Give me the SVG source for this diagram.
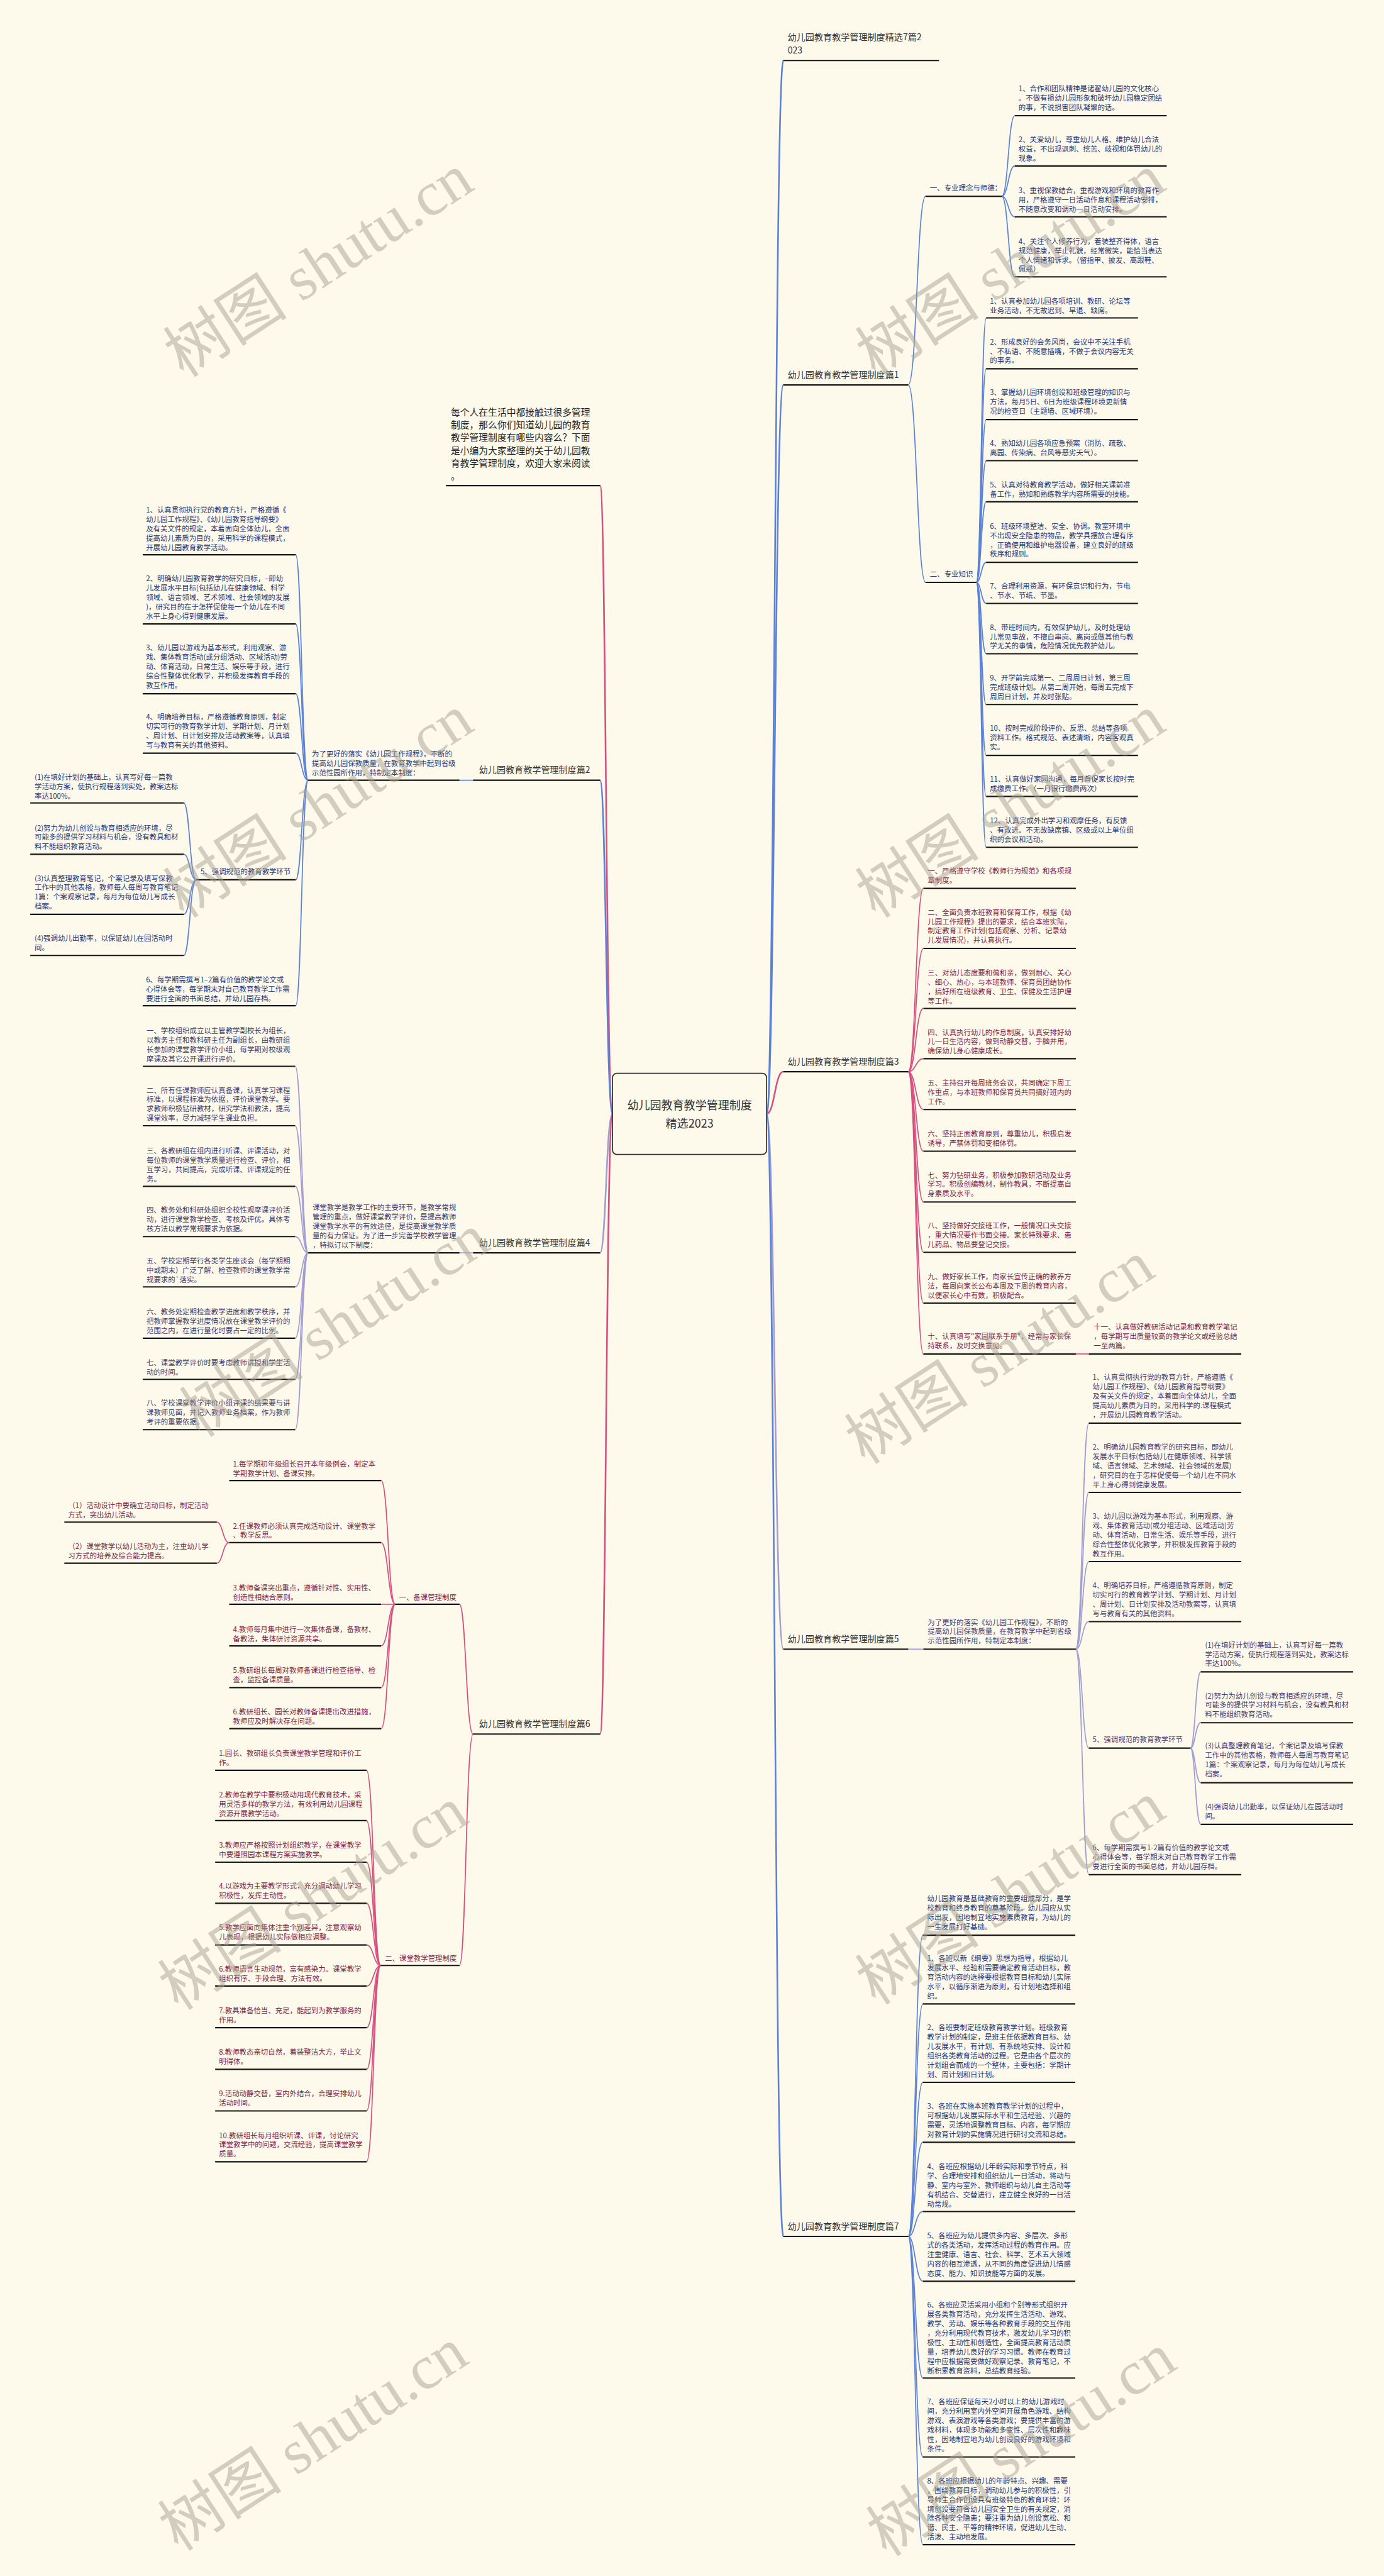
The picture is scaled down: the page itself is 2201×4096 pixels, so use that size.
<svg xmlns="http://www.w3.org/2000/svg" width="2201" height="4096" viewBox="0 0 2201 4096">
<style>
text{font-family:"Noto Sans CJK SC","Noto Sans",sans-serif}
.t{font-size:13.3px}
.lab{font-size:16.4px;fill:#333}
.nv{fill:#24367A}
.mr{fill:#7D1F47}
.pu{fill:#3E3B70}
.pv{fill:#463A74}
.ul{stroke:#161616;stroke-width:2.5;fill:none}
.c{fill:none;stroke-width:2}
.cm{fill:none;stroke-width:3}
.b{stroke:#5B82D6}
.p{stroke:#D6507F}
.l{stroke:#A29CD2}
.wm{font-family:"Liberation Serif","Noto Sans CJK SC",serif;font-size:115px;fill:#A8A292;opacity:.5}
</style>
<rect width="2201" height="4096" fill="#FDF9EB"/>
<g transform="scale(0.85977)">

<g id="connectors">
<!-- main right -->
<path class="cm b" d="M1418 2060 C1433 2060 1433 112 1449 112"/>
<path class="cm b" d="M1418 2060 C1433 2060 1433 712 1449 712"/>
<path class="cm p" d="M1418 2060 C1433 2060 1433 1982 1449 1982"/>
<path class="cm l" d="M1418 2060 C1433 2060 1433 3050 1449 3050"/>
<path class="cm b" d="M1418 2060 C1433 2060 1433 4136 1449 4136"/>
<!-- main left -->
<path class="cm p" d="M1133 2060 C1121 2060 1121 898 1110 898"/>
<path class="cm b" d="M1133 2060 C1121 2060 1121 1443 1110 1443"/>
<path class="cm l" d="M1133 2060 C1121 2060 1121 2317 1110 2317"/>
<path class="cm p" d="M1133 2060 C1121 2060 1121 3207 1110 3207"/>
<!-- p1 -->
<path class="c b" d="M1680 712 C1696 712 1696 363 1712 363"/>
<path class="c b" d="M1680 712 C1696 712 1696 1077 1712 1077"/>
<path class="c b" d="M1853 363 C1865 363 1865 214 1877 214"/>
<path class="c b" d="M1853 363 C1865 363 1865 307 1877 307"/>
<path class="c b" d="M1853 363 C1865 363 1865 401 1877 401"/>
<path class="c b" d="M1853 363 C1865 363 1865 512 1877 512"/>
<path class="c b" d="M1806 1077 C1815 1077 1815 588 1824 588"/>
<path class="c b" d="M1806 1077 C1815 1077 1815 682 1824 682"/>
<path class="c b" d="M1806 1077 C1815 1077 1815 776 1824 776"/>
<path class="c b" d="M1806 1077 C1815 1077 1815 852 1824 852"/>
<path class="c b" d="M1806 1077 C1815 1077 1815 928 1824 928"/>
<path class="c b" d="M1806 1077 C1815 1077 1815 1040 1824 1040"/>
<path class="c b" d="M1806 1077 C1815 1077 1815 1116 1824 1116"/>
<path class="c b" d="M1806 1077 C1815 1077 1815 1209 1824 1209"/>
<path class="c b" d="M1806 1077 C1815 1077 1815 1303 1824 1303"/>
<path class="c b" d="M1806 1077 C1815 1077 1815 1397 1824 1397"/>
<path class="c b" d="M1806 1077 C1815 1077 1815 1473 1824 1473"/>
<path class="c b" d="M1806 1077 C1815 1077 1815 1567 1824 1567"/>
<!-- p3 -->
<path class="c p" d="M1680 1982 C1694 1982 1694 1643 1708 1643"/>
<path class="c p" d="M1680 1982 C1694 1982 1694 1754 1708 1754"/>
<path class="c p" d="M1680 1982 C1694 1982 1694 1865 1708 1865"/>
<path class="c p" d="M1680 1982 C1694 1982 1694 1958 1708 1958"/>
<path class="c p" d="M1680 1982 C1694 1982 1694 2052 1708 2052"/>
<path class="c p" d="M1680 1982 C1694 1982 1694 2129 1708 2129"/>
<path class="c p" d="M1680 1982 C1694 1982 1694 2223 1708 2223"/>
<path class="c p" d="M1680 1982 C1694 1982 1694 2316 1708 2316"/>
<path class="c p" d="M1680 1982 C1694 1982 1694 2410 1708 2410"/>
<path class="c p" d="M1680 1982 C1694 1982 1694 2504 1708 2504"/>
<path class="c p" d="M1990 2504 L2014 2504"/>
<!-- p5 -->
<path class="c l" d="M1680 3050 L1708 3050"/>
<path class="c l" d="M1990 3050 C2002 3050 2002 2632 2014 2632"/>
<path class="c l" d="M1990 3050 C2002 3050 2002 2760 2014 2760"/>
<path class="c l" d="M1990 3050 C2002 3050 2002 2888 2014 2888"/>
<path class="c l" d="M1990 3050 C2002 3050 2002 2999 2014 2999"/>
<path class="c l" d="M1990 3050 C2002 3050 2002 3233 2014 3233"/>
<path class="c l" d="M1990 3050 C2002 3050 2002 3467 2014 3467"/>
<path class="c l" d="M2202 3233 C2211 3233 2211 3092 2221 3092"/>
<path class="c l" d="M2202 3233 C2211 3233 2211 3186 2221 3186"/>
<path class="c l" d="M2202 3233 C2211 3233 2211 3297 2221 3297"/>
<path class="c l" d="M2202 3233 C2211 3233 2211 3374 2221 3374"/>
<!-- p7 -->
<path class="c b" d="M1680 4136 C1693 4136 1693 3579 1707 3579"/>
<path class="c b" d="M1680 4136 C1693 4136 1693 3706 1707 3706"/>
<path class="c b" d="M1680 4136 C1693 4136 1693 3851 1707 3851"/>
<path class="c b" d="M1680 4136 C1693 4136 1693 3962 1707 3962"/>
<path class="c b" d="M1680 4136 C1693 4136 1693 4090 1707 4090"/>
<path class="c b" d="M1680 4136 C1693 4136 1693 4219 1707 4219"/>
<path class="c b" d="M1680 4136 C1693 4136 1693 4398 1707 4398"/>
<path class="c b" d="M1680 4136 C1693 4136 1693 4544 1707 4544"/>
<path class="c b" d="M1680 4136 C1693 4136 1693 4706 1707 4706"/>
<!-- p2 -->
<path class="c b" d="M875 1443 L850 1443"/>
<path class="c b" d="M570 1443 C558 1443 558 1026 547 1026"/>
<path class="c b" d="M570 1443 C558 1443 558 1154 547 1154"/>
<path class="c b" d="M570 1443 C558 1443 558 1283 547 1283"/>
<path class="c b" d="M570 1443 C558 1443 558 1393 547 1393"/>
<path class="c b" d="M570 1443 C558 1443 558 1627 547 1627"/>
<path class="c b" d="M570 1443 C558 1443 558 1860 547 1860"/>
<path class="c b" d="M363 1627 C351 1627 351 1485 340 1485"/>
<path class="c b" d="M363 1627 C351 1627 351 1580 340 1580"/>
<path class="c b" d="M363 1627 C351 1627 351 1691 340 1691"/>
<path class="c b" d="M363 1627 C351 1627 351 1767 340 1767"/>
<!-- p4 -->
<path class="c l" d="M875 2317 L850 2317"/>
<path class="c l" d="M570 2317 C558 2317 558 1972 546 1972"/>
<path class="c l" d="M570 2317 C558 2317 558 2082 546 2082"/>
<path class="c l" d="M570 2317 C558 2317 558 2194 546 2194"/>
<path class="c l" d="M570 2317 C558 2317 558 2287 546 2287"/>
<path class="c l" d="M570 2317 C558 2317 558 2380 546 2380"/>
<path class="c l" d="M570 2317 C558 2317 558 2475 546 2475"/>
<path class="c l" d="M570 2317 C558 2317 558 2551 546 2551"/>
<path class="c l" d="M570 2317 C558 2317 558 2644 546 2644"/>
<!-- p6 -->
<path class="c p" d="M875 3207 C862 3207 862 2967 850 2967"/>
<path class="c p" d="M875 3207 C862 3207 862 3635 850 3635"/>
<path class="c p" d="M731 2967 C718 2967 718 2738 705 2738"/>
<path class="c p" d="M731 2967 C718 2967 718 2853 705 2853"/>
<path class="c p" d="M731 2967 L705 2967"/>
<path class="c p" d="M731 2967 C718 2967 718 3044 705 3044"/>
<path class="c p" d="M731 2967 C718 2967 718 3121 705 3121"/>
<path class="c p" d="M731 2967 C718 2967 718 3197 705 3197"/>
<path class="c p" d="M424 2853 C412 2853 412 2815 401 2815"/>
<path class="c p" d="M424 2853 C412 2853 412 2891 401 2891"/>
<path class="c p" d="M704 3635 C691 3635 691 3274 678 3274"/>
<path class="c p" d="M704 3635 C691 3635 691 3367 678 3367"/>
<path class="c p" d="M704 3635 C691 3635 691 3444 678 3444"/>
<path class="c p" d="M704 3635 C691 3635 691 3520 678 3520"/>
<path class="c p" d="M704 3635 C691 3635 691 3597 678 3597"/>
<path class="c p" d="M704 3635 C691 3635 691 3673 678 3673"/>
<path class="c p" d="M704 3635 C691 3635 691 3750 678 3750"/>
<path class="c p" d="M704 3635 C691 3635 691 3827 678 3827"/>
<path class="c p" d="M704 3635 C691 3635 691 3904 678 3904"/>
<path class="c p" d="M704 3635 C691 3635 691 3998 678 3998"/>
</g>

<g id="n-center">
<rect x="1133" y="1985" width="285" height="150" rx="8" fill="#FDF9EB" stroke="#333" stroke-width="2"/>
<text x="1275.5" y="2052" font-size="21" fill="#333" text-anchor="middle">幼儿园教育教学管理制度<tspan x="1275.5" dy="33">精选2023</tspan></text>
</g>

<!-- right side branch labels -->
<g id="n-title"><text class="lab" x="1457" y="75">幼儿园教育教学管理制度精选7篇2<tspan x="1457" dy="24">023</tspan></text><path class="ul" d="M1449 112H1737"/></g>
<g id="n-p1"><text class="lab" x="1457" y="699">幼儿园教育教学管理制度篇1</text><path class="ul" d="M1449 712H1680"/></g>
<g id="n-p3"><text class="lab" x="1457" y="1969">幼儿园教育教学管理制度篇3</text><path class="ul" d="M1449 1982H1680"/></g>
<g id="n-p5"><text class="lab" x="1457" y="3037">幼儿园教育教学管理制度篇5</text><path class="ul" d="M1449 3050H1680"/></g>
<g id="n-p7"><text class="lab" x="1457" y="4123">幼儿园教育教学管理制度篇7</text><path class="ul" d="M1449 4136H1680"/></g>

<!-- p1 -->
<g id="n-p1a"><text class="t nv" x="1720" y="353">一、专业理念与师德：</text><path class="ul" d="M1712 363H1853"/></g>
<g id="n-p1a1"><text class="t nv" x="1884" y="169"><tspan x="1884">1、合作和团队精神是诸翟幼儿园的文化核心</tspan><tspan x="1884" dy="17.3">。不做有损幼儿园形象和破坏幼儿园稳定团结</tspan><tspan x="1884" dy="17.3">的事，不说损害团队凝聚的话。</tspan></text><path class="ul" d="M1877 214H2158"/></g>
<g id="n-p1a2"><text class="t nv" x="1884" y="263"><tspan x="1884">2、关爱幼儿，尊重幼儿人格、维护幼儿合法</tspan><tspan x="1884" dy="17.3">权益，不出现讽刺、挖苦、歧视和体罚幼儿的</tspan><tspan x="1884" dy="17.3">现象。</tspan></text><path class="ul" d="M1877 307H2158"/></g>
<g id="n-p1a3"><text class="t nv" x="1884" y="357"><tspan x="1884">3、重视保教结合，重视游戏和环境的教育作</tspan><tspan x="1884" dy="17.3">用，严格遵守一日活动作息和课程活动安排，</tspan><tspan x="1884" dy="17.3">不随意改变和调动一日活动安排。</tspan></text><path class="ul" d="M1877 401H2158"/></g>
<g id="n-p1a4"><text class="t nv" x="1884" y="451"><tspan x="1884">4、关注个人修养行为，着装整齐得体，语言</tspan><tspan x="1884" dy="17.3">规范健康，举止礼貌，经常微笑，能恰当表达</tspan><tspan x="1884" dy="17.3">个人情绪和诉求。（留指甲、披发、高跟鞋、</tspan><tspan x="1884" dy="17.3">佩戒）</tspan></text><path class="ul" d="M1877 512H2158"/></g>

<g id="n-p1b"><text class="t nv" x="1720" y="1067">二、专业知识</text><path class="ul" d="M1712 1077H1806"/></g>
<g id="n-p1b1"><text class="t nv" x="1831" y="562"><tspan x="1831">1、认真参加幼儿园各项培训、教研、论坛等</tspan><tspan x="1831" dy="17.3">业务活动，不无故迟到、早退、缺席。</tspan></text><path class="ul" d="M1824 588H2105"/></g>
<g id="n-p1b2"><text class="t nv" x="1831" y="637"><tspan x="1831">2、形成良好的会务风尚，会议中不关注手机</tspan><tspan x="1831" dy="17.3">、不私语、不随意插嘴，不做于会议内容无关</tspan><tspan x="1831" dy="17.3">的事务。</tspan></text><path class="ul" d="M1824 682H2105"/></g>
<g id="n-p1b3"><text class="t nv" x="1831" y="731"><tspan x="1831">3、掌握幼儿园环境创设和班级管理的知识与</tspan><tspan x="1831" dy="17.3">方法，每月5日、6日为班级课程环境更新情</tspan><tspan x="1831" dy="17.3">况的检查日（主题墙、区域环境）。</tspan></text><path class="ul" d="M1824 776H2105"/></g>
<g id="n-p1b4"><text class="t nv" x="1831" y="825"><tspan x="1831">4、熟知幼儿园各项应急预案（消防、疏散、</tspan><tspan x="1831" dy="17.3">离园、传染病、台风等恶劣天气）。</tspan></text><path class="ul" d="M1824 852H2105"/></g>
<g id="n-p1b5"><text class="t nv" x="1831" y="901"><tspan x="1831">5、认真对待教育教学活动，做好相关课前准</tspan><tspan x="1831" dy="17.3">备工作，熟知和熟练教学内容所需要的技能。</tspan></text><path class="ul" d="M1824 928H2105"/></g>
<g id="n-p1b6"><text class="t nv" x="1831" y="978"><tspan x="1831">6、班级环境整洁、安全、协调。教室环境中</tspan><tspan x="1831" dy="17.3">不出现安全隐患的物品，教学具摆放合理有序</tspan><tspan x="1831" dy="17.3">，正确使用和维护电器设备，建立良好的班级</tspan><tspan x="1831" dy="17.3">秩序和规则。</tspan></text><path class="ul" d="M1824 1040H2105"/></g>
<g id="n-p1b7"><text class="t nv" x="1831" y="1089"><tspan x="1831">7、合理利用资源，有环保意识和行为，节电</tspan><tspan x="1831" dy="17.3">、节水、节纸、节墨。</tspan></text><path class="ul" d="M1824 1116H2105"/></g>
<g id="n-p1b8"><text class="t nv" x="1831" y="1165"><tspan x="1831">8、带班时间内，有效保护幼儿，及时处理幼</tspan><tspan x="1831" dy="17.3">儿常见事故，不擅自串岗、离岗或做其他与教</tspan><tspan x="1831" dy="17.3">学无关的事情，危险情况优先救护幼儿。</tspan></text><path class="ul" d="M1824 1209H2105"/></g>
<g id="n-p1b9"><text class="t nv" x="1831" y="1259"><tspan x="1831">9、开学前完成第一、二周周日计划，第三周</tspan><tspan x="1831" dy="17.3">完成班级计划。从第二周开始，每周五完成下</tspan><tspan x="1831" dy="17.3">周周日计划，并及时张贴。</tspan></text><path class="ul" d="M1824 1303H2105"/></g>
<g id="n-p1b10"><text class="t nv" x="1831" y="1352"><tspan x="1831">10、按时完成阶段评价、反思、总结等各项</tspan><tspan x="1831" dy="17.3">资料工作。格式规范、表述清晰，内容客观真</tspan><tspan x="1831" dy="17.3">实。</tspan></text><path class="ul" d="M1824 1397H2105"/></g>
<g id="n-p1b11"><text class="t nv" x="1831" y="1446"><tspan x="1831">11、认真做好家园沟通，每月督促家长按时完</tspan><tspan x="1831" dy="17.3">成缴费工作。（一月银行缴费两次）</tspan></text><path class="ul" d="M1824 1473H2105"/></g>
<g id="n-p1b12"><text class="t nv" x="1831" y="1523"><tspan x="1831">12、认真完成外出学习和观摩任务，有反馈</tspan><tspan x="1831" dy="17.3">、有改进。不无故缺席镇、区级或以上单位组</tspan><tspan x="1831" dy="17.3">织的会议和活动。</tspan></text><path class="ul" d="M1824 1567H2105"/></g>

<!-- p3 -->
<g id="n-p3-1"><text class="t mr" x="1716" y="1616"><tspan x="1716">一、严格遵守学校《教师行为规范》和各项规</tspan><tspan x="1716" dy="17.3">章制度。</tspan></text><path class="ul" d="M1708 1643H1990"/></g>
<g id="n-p3-2"><text class="t mr" x="1716" y="1692"><tspan x="1716">二、全面负责本班教育和保育工作，根据《幼</tspan><tspan x="1716" dy="17.3">儿园工作规程》提出的要求，结合本班实际，</tspan><tspan x="1716" dy="17.3">制定教育工作计划(包括观察、分析、记录幼</tspan><tspan x="1716" dy="17.3">儿发展情况)，并认真执行。</tspan></text><path class="ul" d="M1708 1754H1990"/></g>
<g id="n-p3-3"><text class="t mr" x="1716" y="1804"><tspan x="1716">三、对幼儿态度要和蔼和亲，做到耐心、关心</tspan><tspan x="1716" dy="17.3">、细心、热心，与本班教师、保育员团结协作</tspan><tspan x="1716" dy="17.3">，搞好所在班级教育、卫生、保健及生活护理</tspan><tspan x="1716" dy="17.3">等工作。</tspan></text><path class="ul" d="M1708 1865H1990"/></g>
<g id="n-p3-4"><text class="t mr" x="1716" y="1914"><tspan x="1716">四、认真执行幼儿的作息制度，认真安排好幼</tspan><tspan x="1716" dy="17.3">儿一日生活内容，做到动静交替，手脑并用，</tspan><tspan x="1716" dy="17.3">确保幼儿身心健康成长。</tspan></text><path class="ul" d="M1708 1958H1990"/></g>
<g id="n-p3-5"><text class="t mr" x="1716" y="2008"><tspan x="1716">五、主持召开每周班务会议，共同确定下周工</tspan><tspan x="1716" dy="17.3">作重点，与本班教师和保育员共同搞好班内的</tspan><tspan x="1716" dy="17.3">工作。</tspan></text><path class="ul" d="M1708 2052H1990"/></g>
<g id="n-p3-6"><text class="t mr" x="1716" y="2102"><tspan x="1716">六、坚持正面教育原则，尊重幼儿，积极启发</tspan><tspan x="1716" dy="17.3">诱导，严禁体罚和变相体罚。</tspan></text><path class="ul" d="M1708 2129H1990"/></g>
<g id="n-p3-7"><text class="t mr" x="1716" y="2178"><tspan x="1716">七、努力钻研业务，积极参加教研活动及业务</tspan><tspan x="1716" dy="17.3">学习。积极创编教材，制作教具，不断提高自</tspan><tspan x="1716" dy="17.3">身素质及水平。</tspan></text><path class="ul" d="M1708 2223H1990"/></g>
<g id="n-p3-8"><text class="t mr" x="1716" y="2272"><tspan x="1716">八、坚持做好交接班工作，一般情况口头交接</tspan><tspan x="1716" dy="17.3">，重大情况要作书面交接。家长特殊要求、患</tspan><tspan x="1716" dy="17.3">儿药品、物品要登记交接。</tspan></text><path class="ul" d="M1708 2316H1990"/></g>
<g id="n-p3-9"><text class="t mr" x="1716" y="2366"><tspan x="1716">九、做好家长工作，向家长宣传正确的教养方</tspan><tspan x="1716" dy="17.3">法，每周向家长公布本周及下周的教育内容，</tspan><tspan x="1716" dy="17.3">以便家长心中有数，积极配合。</tspan></text><path class="ul" d="M1708 2410H1990"/></g>
<g id="n-p3-10"><text class="t mr" x="1716" y="2476"><tspan x="1716">十、认真填写"家园联系手册"，经常与家长保</tspan><tspan x="1716" dy="17.3">持联系，及时交换意见。</tspan></text><path class="ul" d="M1708 2504H1990"/></g>
<g id="n-p3-11"><text class="t mr" x="2023" y="2459"><tspan x="2023">十一、认真做好教研活动记录和教育教学笔记</tspan><tspan x="2023" dy="17.3">，每学期写出质量较高的教学论文或经验总结</tspan><tspan x="2023" dy="17.3">一至两篇。</tspan></text><path class="ul" d="M2014 2504H2296"/></g>

<!-- p5 -->
<g id="n-p5-intro"><text class="t pv" x="1716" y="3005"><tspan x="1716">为了更好的落实《幼儿园工作规程》，不断的</tspan><tspan x="1716" dy="17.3">提高幼儿园保教质量，在教育教学中起到省级</tspan><tspan x="1716" dy="17.3">示范性园所作用，特制定本制度：</tspan></text><path class="ul" d="M1708 3050H1990"/></g>
<g id="n-p5-1"><text class="t pv" x="2021" y="2552"><tspan x="2021">1、认真贯彻执行党的教育方针，严格遵循《</tspan><tspan x="2021" dy="17.3">幼儿园工作规程》、《幼儿园教育指导纲要》</tspan><tspan x="2021" dy="17.3">及有关文件的规定，本着面向全体幼儿，全面</tspan><tspan x="2021" dy="17.3">提高幼儿素质为目的，采用科学的.课程模式</tspan><tspan x="2021" dy="17.3">，开展幼儿园教育教学活动。</tspan></text><path class="ul" d="M2014 2632H2296"/></g>
<g id="n-p5-2"><text class="t pv" x="2021" y="2681"><tspan x="2021">2、明确幼儿园教育教学的研究目标，即幼儿</tspan><tspan x="2021" dy="17.3">发展水平目标(包括幼儿在健康领域、科学领</tspan><tspan x="2021" dy="17.3">域、语言领域、艺术领域、社会领域的发展)</tspan><tspan x="2021" dy="17.3">，研究目的在于怎样促使每一个幼儿在不同水</tspan><tspan x="2021" dy="17.3">平上身心得到健康发展。</tspan></text><path class="ul" d="M2014 2760H2296"/></g>
<g id="n-p5-3"><text class="t pv" x="2021" y="2809"><tspan x="2021">3、幼儿园以游戏为基本形式，利用观察、游</tspan><tspan x="2021" dy="17.3">戏、集体教育活动(或分组活动、区域活动)劳</tspan><tspan x="2021" dy="17.3">动、体育活动，日常生活、娱乐等手段，进行</tspan><tspan x="2021" dy="17.3">综合性整体优化教学，并积极发挥教育手段的</tspan><tspan x="2021" dy="17.3">教互作用。</tspan></text><path class="ul" d="M2014 2888H2296"/></g>
<g id="n-p5-4"><text class="t pv" x="2021" y="2937"><tspan x="2021">4、明确培养目标，严格遵循教育原则，制定</tspan><tspan x="2021" dy="17.3">切实可行的教育教学计划、学期计划、月计划</tspan><tspan x="2021" dy="17.3">、周计划、日计划安排及活动教案等，认真填</tspan><tspan x="2021" dy="17.3">写与教育有关的其他资料。</tspan></text><path class="ul" d="M2014 2999H2296"/></g>
<g id="n-p5-5"><text class="t pv" x="2021" y="3222">5、强调规范的教育教学环节</text><path class="ul" d="M2014 3233H2202"/></g>
<g id="n-p5-5a"><text class="t pv" x="2229" y="3047"><tspan x="2229">(1)在填好计划的基础上，认真写好每一篇教</tspan><tspan x="2229" dy="17.3">学活动方案，使执行规程落到实处，教案达标</tspan><tspan x="2229" dy="17.3">率达100%。</tspan></text><path class="ul" d="M2221 3092H2503"/></g>
<g id="n-p5-5b"><text class="t pv" x="2229" y="3141"><tspan x="2229">(2)努力为幼儿创设与教育相适应的环境，尽</tspan><tspan x="2229" dy="17.3">可能多的提供学习材料与机会，没有教具和材</tspan><tspan x="2229" dy="17.3">料不能组织教育活动。</tspan></text><path class="ul" d="M2221 3186H2503"/></g>
<g id="n-p5-5c"><text class="t pv" x="2229" y="3234"><tspan x="2229">(3)认真整理教育笔记，个案记录及填写保教</tspan><tspan x="2229" dy="17.3">工作中的其他表格，教师每人每周写教育笔记</tspan><tspan x="2229" dy="17.3">1篇：个案观察记录，每月为每位幼儿写成长</tspan><tspan x="2229" dy="17.3">档案。</tspan></text><path class="ul" d="M2221 3297H2503"/></g>
<g id="n-p5-5d"><text class="t pv" x="2229" y="3346"><tspan x="2229">(4)强调幼儿出勤率，以保证幼儿在园活动时</tspan><tspan x="2229" dy="17.3">间。</tspan></text><path class="ul" d="M2221 3374H2503"/></g>
<g id="n-p5-6"><text class="t pv" x="2021" y="3422"><tspan x="2021">6、每学期需撰写1-2篇有价值的教学论文或</tspan><tspan x="2021" dy="17.3">心得体会等，每学期末对自己教育教学工作需</tspan><tspan x="2021" dy="17.3">要进行全面的书面总结，并幼儿园存档。</tspan></text><path class="ul" d="M2014 3467H2296"/></g>

<!-- p7 -->
<g id="n-p7-intro"><text class="t nv" x="1715" y="3516"><tspan x="1715">幼儿园教育是基础教育的重要组成部分，是学</tspan><tspan x="1715" dy="17.3">校教育和终身教育的奠基阶段。幼儿园应从实</tspan><tspan x="1715" dy="17.3">际出发，因地制宜地实施素质教育，为幼儿的</tspan><tspan x="1715" dy="17.3">一生发展打好基础。</tspan></text><path class="ul" d="M1707 3579H1989"/></g>
<g id="n-p7-1"><text class="t nv" x="1715" y="3627"><tspan x="1715">1、各班以新《纲要》思想为指导，根据幼儿</tspan><tspan x="1715" dy="17.3">发展水平、经验和需要确定教育活动目标，教</tspan><tspan x="1715" dy="17.3">育活动内容的选择要根据教育目标和幼儿实际</tspan><tspan x="1715" dy="17.3">水平，以循序渐进为原则，有计划地选择和组</tspan><tspan x="1715" dy="17.3">织。</tspan></text><path class="ul" d="M1707 3706H1989"/></g>
<g id="n-p7-2"><text class="t nv" x="1715" y="3755"><tspan x="1715">2、各班要制定班级教育教学计划。班级教育</tspan><tspan x="1715" dy="17.3">教学计划的制定，是班主任依据教育目标、幼</tspan><tspan x="1715" dy="17.3">儿发展水平，有计划、有系统地安排、设计和</tspan><tspan x="1715" dy="17.3">组织各类教育活动的过程。它是由各个层次的</tspan><tspan x="1715" dy="17.3">计划组合而成的一个整体，主要包括：学期计</tspan><tspan x="1715" dy="17.3">划、周计划和日计划。</tspan></text><path class="ul" d="M1707 3851H1989"/></g>
<g id="n-p7-3"><text class="t nv" x="1715" y="3900"><tspan x="1715">3、各班在实施本班教育教学计划的过程中，</tspan><tspan x="1715" dy="17.3">可根据幼儿发展实际水平和生活经验、兴趣的</tspan><tspan x="1715" dy="17.3">需要，灵活地调整教育目标、内容，每学期应</tspan><tspan x="1715" dy="17.3">对教育计划的实施情况进行研讨交流和总结。</tspan></text><path class="ul" d="M1707 3962H1989"/></g>
<g id="n-p7-4"><text class="t nv" x="1715" y="4012"><tspan x="1715">4、各班应根据幼儿年龄实际和季节特点，科</tspan><tspan x="1715" dy="17.3">学、合理地安排和组织幼儿一日活动，将动与</tspan><tspan x="1715" dy="17.3">静、室内与室外、教师组织与幼儿自主活动等</tspan><tspan x="1715" dy="17.3">有机结合、交替进行，建立健全良好的一日活</tspan><tspan x="1715" dy="17.3">动常规。</tspan></text><path class="ul" d="M1707 4090H1989"/></g>
<g id="n-p7-5"><text class="t nv" x="1715" y="4140"><tspan x="1715">5、各班应为幼儿提供多内容、多层次、多形</tspan><tspan x="1715" dy="17.3">式的各类活动，发挥活动过程的教育作用。应</tspan><tspan x="1715" dy="17.3">注重健康、语言、社会、科学、艺术五大领域</tspan><tspan x="1715" dy="17.3">内容的相互渗透，从不同的角度促进幼儿情感</tspan><tspan x="1715" dy="17.3">态度、能力、知识技能等方面的发展。</tspan></text><path class="ul" d="M1707 4219H1989"/></g>
<g id="n-p7-6"><text class="t nv" x="1715" y="4268"><tspan x="1715">6、各班应灵活采用小组和个别等形式组织开</tspan><tspan x="1715" dy="17.3">展各类教育活动，充分发挥生活活动、游戏、</tspan><tspan x="1715" dy="17.3">教学、劳动、娱乐等各种教育手段的交互作用</tspan><tspan x="1715" dy="17.3">，充分利用现代教育技术，激发幼儿学习的积</tspan><tspan x="1715" dy="17.3">极性、主动性和创造性，全面提高教育活动质</tspan><tspan x="1715" dy="17.3">量，培养幼儿良好的学习习惯。教师在教育过</tspan><tspan x="1715" dy="17.3">程中应根据需要做好观察记录、教育笔记，不</tspan><tspan x="1715" dy="17.3">断积累教育资料，总结教育经验。</tspan></text><path class="ul" d="M1707 4398H1989"/></g>
<g id="n-p7-7"><text class="t nv" x="1715" y="4447"><tspan x="1715">7、各班应保证每天2小时以上的幼儿游戏时</tspan><tspan x="1715" dy="17.3">间，充分利用室内外空间开展角色游戏、结构</tspan><tspan x="1715" dy="17.3">游戏、表演游戏等各类游戏；要提供丰富的游</tspan><tspan x="1715" dy="17.3">戏材料，体现多功能和多变性、层次性和趣味</tspan><tspan x="1715" dy="17.3">性，因地制宜地为幼儿创设良好的游戏环境和</tspan><tspan x="1715" dy="17.3">条件。</tspan></text><path class="ul" d="M1707 4544H1989"/></g>
<g id="n-p7-8"><text class="t nv" x="1715" y="4593"><tspan x="1715">8、各班应根据幼儿的年龄特点、兴趣、需要</tspan><tspan x="1715" dy="17.3">，围绕教育目标，调动幼儿参与的积极性，引</tspan><tspan x="1715" dy="17.3">导师生合作创设具有班级特色的教育环境：环</tspan><tspan x="1715" dy="17.3">境创设要符合幼儿园安全卫生的有关规定，消</tspan><tspan x="1715" dy="17.3">除各种安全隐患；要注重为幼儿创设宽松、和</tspan><tspan x="1715" dy="17.3">谐、民主、平等的精神环境，促进幼儿生动、</tspan><tspan x="1715" dy="17.3">活泼、主动地发展。</tspan></text><path class="ul" d="M1707 4706H1989"/></g>

<!-- left: intro -->
<g id="n-intro"><text x="834" y="769" font-size="17.2" fill="#222"><tspan x="834">每个人在生活中都接触过很多管理</tspan><tspan x="834" dy="23.4">制度，那么你们知道幼儿园的教育</tspan><tspan x="834" dy="23.4">教学管理制度有哪些内容么？下面</tspan><tspan x="834" dy="23.4">是小编为大家整理的关于幼儿园教</tspan><tspan x="834" dy="23.4">育教学管理制度，欢迎大家来阅读</tspan><tspan x="834" dy="23.4">。</tspan></text><path class="ul" d="M825 898H1110"/></g>

<!-- p2 -->
<g id="n-p2"><text class="lab" x="886" y="1430">幼儿园教育教学管理制度篇2</text><path class="ul" d="M875 1443H1110"/></g>
<g id="n-p2-intro"><text class="t nv" x="577" y="1399"><tspan x="577">为了更好的落实《幼儿园工作规程》，不断的</tspan><tspan x="577" dy="17.3">提高幼儿园保教质量，在教育教学中起到省级</tspan><tspan x="577" dy="17.3">示范性园所作用，特制定本制度：</tspan></text><path class="ul" d="M570 1443H850"/></g>
<g id="n-p2-1"><text class="t nv" x="270" y="948"><tspan x="270">1、认真贯彻执行党的教育方针，严格遵循《</tspan><tspan x="270" dy="17.3">幼儿园工作规程》、《幼儿园教育指导纲要》</tspan><tspan x="270" dy="17.3">及有关文件的规定，本着面向全体幼儿，全面</tspan><tspan x="270" dy="17.3">提高幼儿素质为目的，采用科学的课程模式，</tspan><tspan x="270" dy="17.3">开展幼儿园教育教学活动。</tspan></text><path class="ul" d="M264 1026H547"/></g>
<g id="n-p2-2"><text class="t nv" x="270" y="1075"><tspan x="270">2、明确幼儿园教育教学的研究目标，–即幼</tspan><tspan x="270" dy="17.3">儿发展水平目标(包括幼儿在健康领域、科学</tspan><tspan x="270" dy="17.3">领域、语言领域、艺术领域、社会领域的发展</tspan><tspan x="270" dy="17.3">)，研究目的在于怎样促使每一个幼儿在不同</tspan><tspan x="270" dy="17.3">水平上身心得到健康发展。</tspan></text><path class="ul" d="M264 1154H547"/></g>
<g id="n-p2-3"><text class="t nv" x="270" y="1203"><tspan x="270">3、幼儿园以游戏为基本形式，利用观察、游</tspan><tspan x="270" dy="17.3">戏、集体教育活动(或分组活动、区域活动)劳</tspan><tspan x="270" dy="17.3">动、体育活动，日常生活、娱乐等手段，进行</tspan><tspan x="270" dy="17.3">综合性整体优化教学，并积极发挥教育手段的</tspan><tspan x="270" dy="17.3">教互作用。</tspan></text><path class="ul" d="M264 1283H547"/></g>
<g id="n-p2-4"><text class="t nv" x="270" y="1331"><tspan x="270">4、明确培养目标，严格遵循教育原则，制定</tspan><tspan x="270" dy="17.3">切实可行的教育教学计划、学期计划、月计划</tspan><tspan x="270" dy="17.3">、周计划、日计划安排及活动教案等，认真填</tspan><tspan x="270" dy="17.3">写与教育有关的其他资料。</tspan></text><path class="ul" d="M264 1393H547"/></g>
<g id="n-p2-5"><text class="t nv" x="371" y="1617">5、强调规范的教育教学环节</text><path class="ul" d="M363 1627H547"/></g>
<g id="n-p2-5a"><text class="t nv" x="64" y="1442"><tspan x="64">(1)在填好计划的基础上，认真写好每一篇教</tspan><tspan x="64" dy="17.3">学活动方案，使执行规程落到实处，教案达标</tspan><tspan x="64" dy="17.3">率达100%。</tspan></text><path class="ul" d="M56 1485H340"/></g>
<g id="n-p2-5b"><text class="t nv" x="64" y="1536"><tspan x="64">(2)努力为幼儿创设与教育相适应的环境，尽</tspan><tspan x="64" dy="17.3">可能多的提供学习材料与机会，没有教具和材</tspan><tspan x="64" dy="17.3">料不能组织教育活动。</tspan></text><path class="ul" d="M56 1580H340"/></g>
<g id="n-p2-5c"><text class="t nv" x="64" y="1629"><tspan x="64">(3)认真整理教育笔记，个案记录及填写保教</tspan><tspan x="64" dy="17.3">工作中的其他表格，教师每人每周写教育笔记</tspan><tspan x="64" dy="17.3">1篇：个案观察记录，每月为每位幼儿写成长</tspan><tspan x="64" dy="17.3">档案。</tspan></text><path class="ul" d="M56 1691H340"/></g>
<g id="n-p2-5d"><text class="t nv" x="64" y="1740"><tspan x="64">(4)强调幼儿出勤率，以保证幼儿在园活动时</tspan><tspan x="64" dy="17.3">间。</tspan></text><path class="ul" d="M56 1767H340"/></g>
<g id="n-p2-6"><text class="t nv" x="270" y="1817"><tspan x="270">6、每学期需撰写1–2篇有价值的教学论文或</tspan><tspan x="270" dy="17.3">心得体会等，每学期末对自己教育教学工作需</tspan><tspan x="270" dy="17.3">要进行全面的书面总结，并幼儿园存档。</tspan></text><path class="ul" d="M264 1860H547"/></g>

<!-- p4 -->
<g id="n-p4"><text class="lab" x="886" y="2304">幼儿园教育教学管理制度篇4</text><path class="ul" d="M875 2317H1110"/></g>
<g id="n-p4-intro"><text class="t pu" x="578" y="2238"><tspan x="578">课堂教学是教学工作的主要环节，是教学常规</tspan><tspan x="578" dy="17.3">管理的重点，做好课堂教学评价，是提高教师</tspan><tspan x="578" dy="17.3">课堂教学水平的有效途径，是提高课堂教学质</tspan><tspan x="578" dy="17.3">量的有力保证。为了进一步完善学校教学管理</tspan><tspan x="578" dy="17.3">，特拟订以下制度：</tspan></text><path class="ul" d="M570 2317H850"/></g>
<g id="n-p4-1"><text class="t pu" x="271" y="1911"><tspan x="271">一、学校组织成立以主管教学副校长为组长，</tspan><tspan x="271" dy="17.3">以教务主任和教科研主任为副组长，由教研组</tspan><tspan x="271" dy="17.3">长参加的课堂教学评价小组，每学期对校级观</tspan><tspan x="271" dy="17.3">摩课及其它公开课进行评价。</tspan></text><path class="ul" d="M264 1972H546"/></g>
<g id="n-p4-2"><text class="t pu" x="271" y="2021"><tspan x="271">二、所有任课教师应认真备课，认真学习课程</tspan><tspan x="271" dy="17.3">标准，以课程标准为依据，评价课堂教学。要</tspan><tspan x="271" dy="17.3">求教师积极钻研教材，研究学法和教法，提高</tspan><tspan x="271" dy="17.3">课堂效率，尽力减轻学生课业负担。</tspan></text><path class="ul" d="M264 2082H546"/></g>
<g id="n-p4-3"><text class="t pu" x="271" y="2133"><tspan x="271">三、各教研组在组内进行听课、评课活动，对</tspan><tspan x="271" dy="17.3">每位教师的课堂教学质量进行检查、评价，相</tspan><tspan x="271" dy="17.3">互学习，共同提高，完成听课、评课规定的任</tspan><tspan x="271" dy="17.3">务。</tspan></text><path class="ul" d="M264 2194H546"/></g>
<g id="n-p4-4"><text class="t pu" x="271" y="2243"><tspan x="271">四、教务处和科研处组织全校性观摩课评价活</tspan><tspan x="271" dy="17.3">动，进行课堂教学检查、考核及评优。具体考</tspan><tspan x="271" dy="17.3">核方法以教学常规要求为依据。</tspan></text><path class="ul" d="M264 2287H546"/></g>
<g id="n-p4-5"><text class="t pu" x="271" y="2337"><tspan x="271">五、学校定期举行各类学生座谈会（每学期期</tspan><tspan x="271" dy="17.3">中或期末）广泛了解、检查教师的课堂教学常</tspan><tspan x="271" dy="17.3">规要求的`落实。</tspan></text><path class="ul" d="M264 2380H546"/></g>
<g id="n-p4-6"><text class="t pu" x="271" y="2431"><tspan x="271">六、教务处定期检查教学进度和教学秩序，并</tspan><tspan x="271" dy="17.3">把教师掌握教学进度情况放在课堂教学评价的</tspan><tspan x="271" dy="17.3">范围之内，在进行量化时要占一定的比例。</tspan></text><path class="ul" d="M264 2475H546"/></g>
<g id="n-p4-7"><text class="t pu" x="271" y="2525"><tspan x="271">七、课堂教学评价时要考虑教师讲授和学生活</tspan><tspan x="271" dy="17.3">动的时间。</tspan></text><path class="ul" d="M264 2551H546"/></g>
<g id="n-p4-8"><text class="t pu" x="271" y="2600"><tspan x="271">八、学校课堂教学评价小组评课的结果要与讲</tspan><tspan x="271" dy="17.3">课教师见面，并记入教师业务档案，作为教师</tspan><tspan x="271" dy="17.3">考评的重要依据。</tspan></text><path class="ul" d="M264 2644H546"/></g>

<!-- p6 -->
<g id="n-p6"><text class="lab" x="886" y="3194">幼儿园教育教学管理制度篇6</text><path class="ul" d="M875 3207H1110"/></g>
<g id="n-p6a"><text class="t mr" x="738" y="2959">一、备课管理制度</text><path class="ul" d="M731 2967H850"/></g>
<g id="n-p6a-1"><text class="t mr" x="431" y="2712"><tspan x="431">1.每学期初年级组长召开本年级例会，制定本</tspan><tspan x="431" dy="17.3">学期教学计划、备课安排。</tspan></text><path class="ul" d="M424 2738H705"/></g>
<g id="n-p6a-2"><text class="t mr" x="431" y="2827"><tspan x="431">2.任课教师必须认真完成活动设计、课堂教学</tspan><tspan x="431" dy="17.3">、教学反思。</tspan></text><path class="ul" d="M424 2853H705"/></g>
<g id="n-p6a-2a"><text class="t mr" x="126" y="2789"><tspan x="126">（1）活动设计中要确立活动目标，制定活动</tspan><tspan x="126" dy="17.3">方式，突出幼儿活动。</tspan></text><path class="ul" d="M119 2815H401"/></g>
<g id="n-p6a-2b"><text class="t mr" x="126" y="2865"><tspan x="126">（2）课堂教学以幼儿活动为主，注重幼儿学</tspan><tspan x="126" dy="17.3">习方式的培养及综合能力提高。</tspan></text><path class="ul" d="M119 2891H401"/></g>
<g id="n-p6a-3"><text class="t mr" x="431" y="2942"><tspan x="431">3.教师备课突出重点，遵循针对性、实用性、</tspan><tspan x="431" dy="17.3">创造性相结合原则。</tspan></text><path class="ul" d="M424 2967H705"/></g>
<g id="n-p6a-4"><text class="t mr" x="431" y="3018"><tspan x="431">4.教师每月集中进行一次集体备课，备教材、</tspan><tspan x="431" dy="17.3">备教法，集体研讨资源共享。</tspan></text><path class="ul" d="M424 3044H705"/></g>
<g id="n-p6a-5"><text class="t mr" x="431" y="3094"><tspan x="431">5.教研组长每周对教师备课进行检查指导、检</tspan><tspan x="431" dy="17.3">查，监控备课质量。</tspan></text><path class="ul" d="M424 3121H705"/></g>
<g id="n-p6a-6"><text class="t mr" x="431" y="3171"><tspan x="431">6.教研组长、园长对教师备课提出改进措施，</tspan><tspan x="431" dy="17.3">教师应及时解决存在问题。</tspan></text><path class="ul" d="M424 3197H705"/></g>
<g id="n-p6b"><text class="t mr" x="712" y="3626">二、课堂教学管理制度</text><path class="ul" d="M704 3635H850"/></g>
<g id="n-p6b-1"><text class="t mr" x="405" y="3247"><tspan x="405">1.园长、教研组长负责课堂教学管理和评价工</tspan><tspan x="405" dy="17.3">作。</tspan></text><path class="ul" d="M398 3274H678"/></g>
<g id="n-p6b-2"><text class="t mr" x="405" y="3324"><tspan x="405">2.教师在教学中要积极动用现代教育技术，采</tspan><tspan x="405" dy="17.3">用灵活多样的教学方法，有效利用幼儿园课程</tspan><tspan x="405" dy="17.3">资源开展教学活动。</tspan></text><path class="ul" d="M398 3367H678"/></g>
<g id="n-p6b-3"><text class="t mr" x="405" y="3417"><tspan x="405">3.教师应严格按照计划组织教学，在课堂教学</tspan><tspan x="405" dy="17.3">中要遵照园本课程方案实施教学。</tspan></text><path class="ul" d="M398 3444H678"/></g>
<g id="n-p6b-4"><text class="t mr" x="405" y="3493"><tspan x="405">4.以游戏为主要教学形式，充分调动幼儿学习</tspan><tspan x="405" dy="17.3">积极性，发挥主动性。</tspan></text><path class="ul" d="M398 3520H678"/></g>
<g id="n-p6b-5"><text class="t mr" x="405" y="3570"><tspan x="405">5.教学应面向集体注重个别差异，注意观察幼</tspan><tspan x="405" dy="17.3">儿表现，根据幼儿实际做相应调整。</tspan></text><path class="ul" d="M398 3597H678"/></g>
<g id="n-p6b-6"><text class="t mr" x="405" y="3646"><tspan x="405">6.教师语言生动规范，富有感染力。课堂教学</tspan><tspan x="405" dy="17.3">组织有序、手段合理、方法有效。</tspan></text><path class="ul" d="M398 3673H678"/></g>
<g id="n-p6b-7"><text class="t mr" x="405" y="3723"><tspan x="405">7.教具准备恰当、充足，能起到为教学服务的</tspan><tspan x="405" dy="17.3">作用。</tspan></text><path class="ul" d="M398 3750H678"/></g>
<g id="n-p6b-8"><text class="t mr" x="405" y="3800"><tspan x="405">8.教师教态亲切自然，着装整洁大方，举止文</tspan><tspan x="405" dy="17.3">明得体。</tspan></text><path class="ul" d="M398 3827H678"/></g>
<g id="n-p6b-9"><text class="t mr" x="405" y="3877"><tspan x="405">9.活动动静交替，室内外结合，合理安排幼儿</tspan><tspan x="405" dy="17.3">活动时间。</tspan></text><path class="ul" d="M398 3904H678"/></g>
<g id="n-p6b-10"><text class="t mr" x="405" y="3954"><tspan x="405">10.教研组长每月组织听课、评课，讨论研究</tspan><tspan x="405" dy="17.3">课堂教学中的问题，交流经验，提高课堂教学</tspan><tspan x="405" dy="17.3">质量。</tspan></text><path class="ul" d="M398 3998H678"/></g>

<g id="watermark">
<text class="wm" transform="translate(340,700) rotate(-33)">树图 shutu.cn</text>
<text class="wm" transform="translate(340,1700) rotate(-33)">树图 shutu.cn</text>
<text class="wm" transform="translate(370,2660) rotate(-33)">树图 shutu.cn</text>
<text class="wm" transform="translate(330,3720) rotate(-33)">树图 shutu.cn</text>
<text class="wm" transform="translate(330,4720) rotate(-33)">树图 shutu.cn</text>
<text class="wm" transform="translate(1620,700) rotate(-33)">树图 shutu.cn</text>
<text class="wm" transform="translate(1620,1700) rotate(-33)">树图 shutu.cn</text>
<text class="wm" transform="translate(1600,2710) rotate(-33)">树图 shutu.cn</text>
<text class="wm" transform="translate(1620,3710) rotate(-33)">树图 shutu.cn</text>
<text class="wm" transform="translate(1640,4730) rotate(-33)">树图 shutu.cn</text>
</g>
</g>
</svg>
